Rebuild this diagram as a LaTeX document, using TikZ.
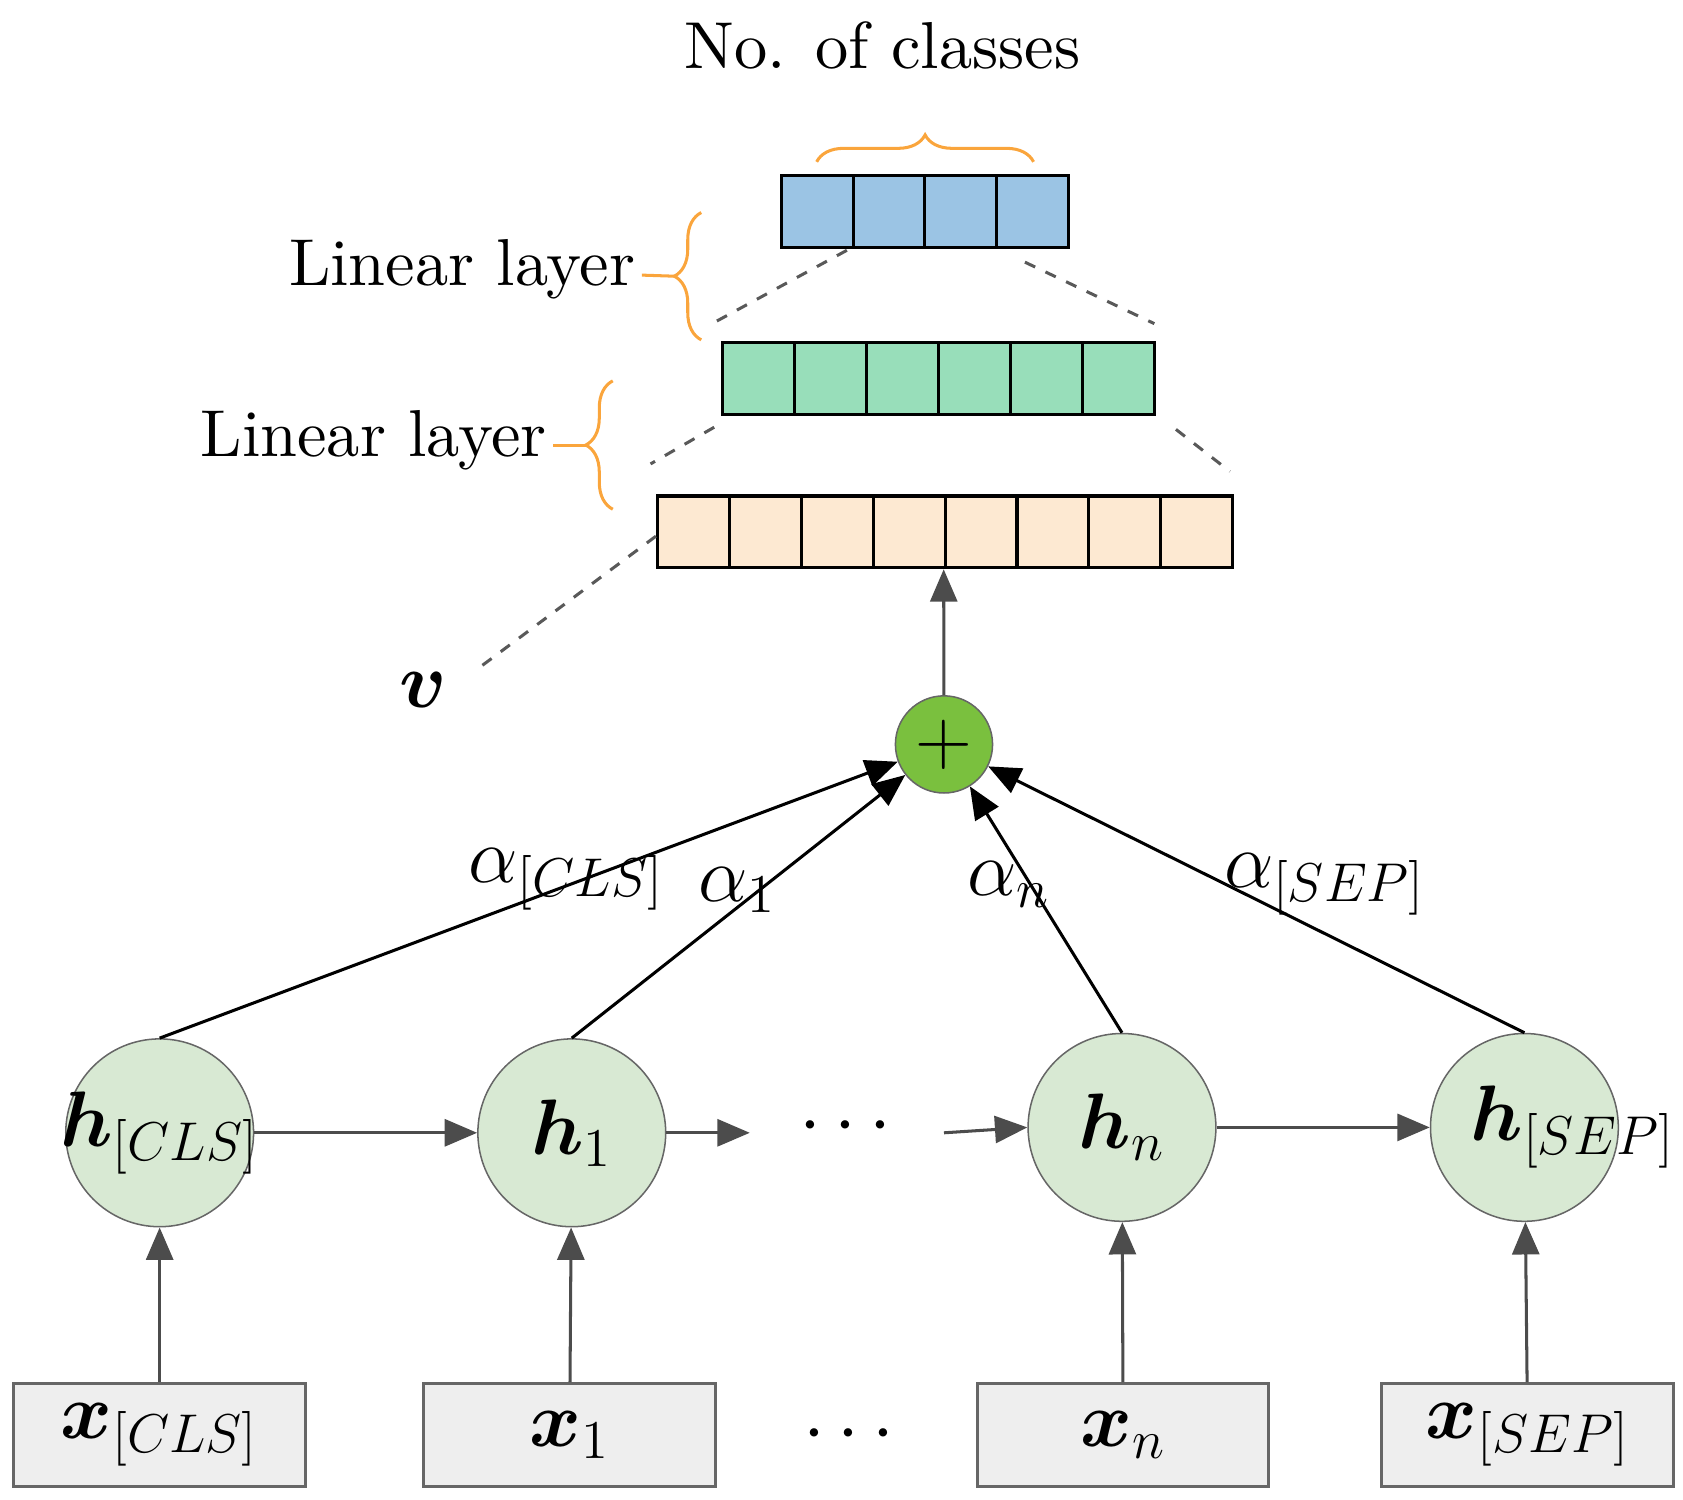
\documentclass[tikz,border=0pt]{standalone}
\usepackage{amsmath,amssymb,bm}
\usetikzlibrary{arrows.meta,decorations.pathreplacing}
\definecolor{cblue}{RGB}{155,196,228}
\definecolor{cgreen}{RGB}{152,222,186}
\definecolor{corange}{RGB}{253,233,210}
\definecolor{hfill}{RGB}{216,233,211}
\definecolor{plusg}{RGB}{122,192,62}
\definecolor{brace}{RGB}{250,165,60}
\tikzset{
  cell/.style={draw=black, thick, minimum width=0.665cm, minimum height=0.665cm, inner sep=0pt},
  hnode/.style={circle, draw=gray!80!black, fill=hfill, minimum size=1.74cm, inner sep=0pt, font=\huge},
  xnode/.style={rectangle, draw=gray!80!black, thick, fill=gray!13, minimum width=2.7cm, minimum height=0.95cm, inner sep=0pt, font=\huge},
  garr/.style={draw=gray!60!black, thick, -{Triangle[length=3mm,width=2.5mm]}},
  barr/.style={draw=black, thick, -{Triangle[length=3mm,width=2.5mm]}},
  dsh/.style={draw=gray!70!black, thick, dashed},
  obrace/.style={draw=brace, thick, decorate, decoration={brace, amplitude=0.25cm}},
  lbl/.style={font=\huge},
  big/.style={scale=1.75, inner sep=0pt}
}
\newcommand{\zw}[1]{\makebox[0pt]{#1}}
\begin{document}
\begin{tikzpicture}[x=0.01cm,y=-0.01cm]
\useasboundingbox (0,0) rectangle (1560,1390);
% output layers
\foreach \i in {0,...,3} \node[cell, fill=cblue] (b\i) at ({758+66.25*\i},196) {};
\foreach \i in {0,...,5} \node[cell, fill=cgreen] (g\i) at ({703+66.7*\i},351) {};
\foreach \i in {0,...,7} \node[cell, fill=corange] (o\i) at ({643+66.6*\i},493) {};
\node[big] (ncl) at (818,42) {No. of classes};
\draw[obrace] (757,150) -- (958,150);
\node[big, anchor=east] (ll1) at (590,250) {Linear layer};
\draw[obrace] (650,315) -- (650,197);
\draw[brace, thick] (ll1.east) ++(5,5) -- (625,256);
\node[big, anchor=east] (ll2) at (508,408) {Linear layer};
\draw[obrace] (568,472) -- (568,353);
\draw[brace, thick] (ll2.east) ++(5,5) -- (543,413);
\coordinate (d1a) at (785,232); \coordinate (d1b) at (660,300);
\coordinate (d2a) at (950,243); \coordinate (d2b) at (1070,300);
\coordinate (d3a) at (662,396); \coordinate (d3b) at (603,430);
\coordinate (d4a) at (1090,398); \coordinate (d4b) at (1140,437);
\coordinate (d5a) at (608,497); \coordinate (d5b) at (440,622);
\draw[dsh] (d1a) -- (d1b); \draw[dsh] (d2a) -- (d2b);
\draw[dsh] (d3a) -- (d3b); \draw[dsh] (d4a) -- (d4b);
\draw[dsh] (d5a) -- (d5b);
\node[lbl] (v) at (392,640) {$\bm{v}$};
% sum
\node[circle, draw=gray!80!black, fill=plusg, minimum size=0.9cm, inner sep=0pt, font=\huge] (plus) at (875,690) {$+$};
\draw[garr] (plus) -- (o4.south west);
% hidden states
\node[hnode] (hc) at (148,1050) {\zw{$\bm{h}_{[CLS]}$}};
\node[hnode] (h1) at (530,1050) {\zw{$\bm{h}_1$}};
\node[hnode] (hn) at (1040,1045) {\zw{$\bm{h}_n$}};
\node[hnode] (hs) at (1413,1045) {\zw{\hspace{0.9cm}$\bm{h}_{[SEP]}$}};
\node[lbl] (hd) at (790,1045) {$\cdots$};
\coordinate (a1) at (695,1050); \coordinate (a2) at (875,1050);
\draw[garr] (hc) -- (h1);
\draw[garr] (h1) -- (a1);
\draw[garr] (a2) -- (hn.west);
\draw[garr] (hn) -- (hs);
\draw[barr] (hc.north) -- (plus);
\draw[barr] (h1.north) -- (plus);
\draw[barr] (hn.north) -- (plus);
\draw[barr] (hs.north) -- (plus);
\node[lbl] (al1) at (525,815) {$\alpha_{[CLS]}$};
\node[lbl] (al2) at (683,825) {$\alpha_1$};
\node[lbl] (al3) at (935,820) {$\alpha_n$};
\node[lbl] (al4) at (1228,820) {$\alpha_{[SEP]}$};
% inputs
\node[xnode] (xc) at (148,1330) {$\bm{x}_{[CLS]}$};
\node[xnode] (x1) at (528,1330) {$\bm{x}_1$};
\node[xnode] (xn) at (1041,1330) {$\bm{x}_n$};
\node[xnode] (xs) at (1416,1330) {$\bm{x}_{[SEP]}$};
\node[lbl] (xd) at (793,1330) {$\cdots$};
\draw[garr] (xc) -- (hc);
\draw[garr] (x1) -- (h1);
\draw[garr] (xn) -- (hn);
\draw[garr] (xs) -- (hs);
\end{tikzpicture}
\end{document}
